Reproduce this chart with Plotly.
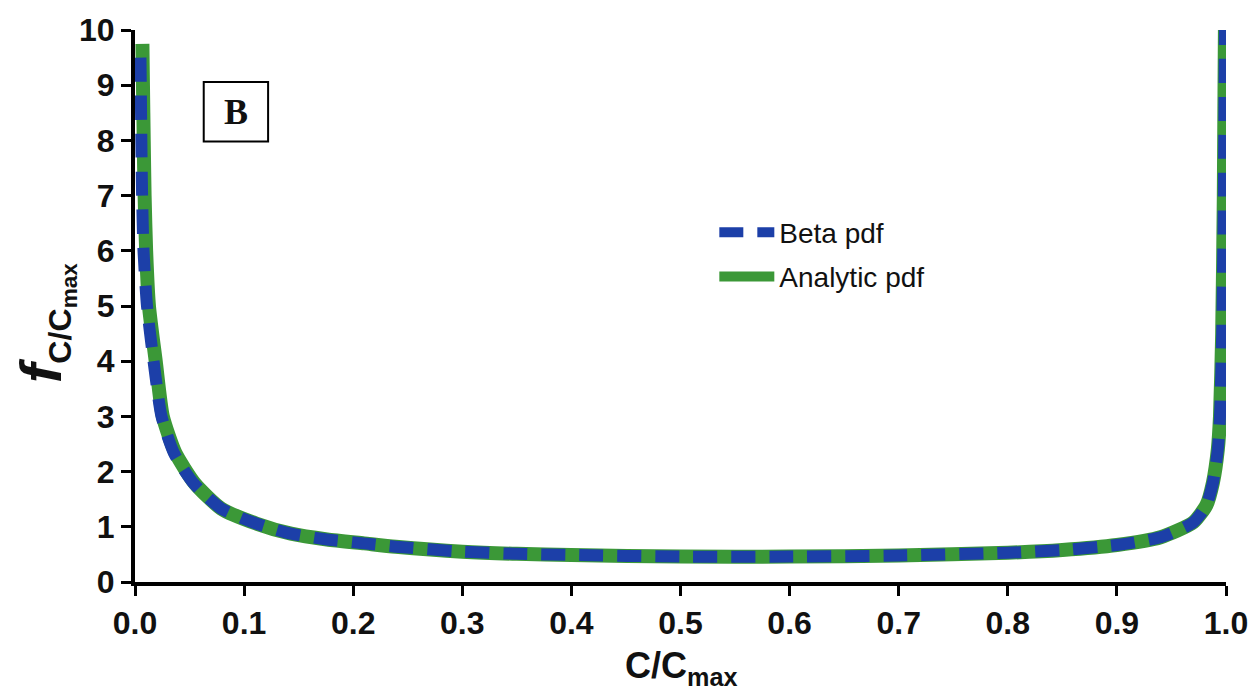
import plotly.graph_objects as go

# Analytic pdf (green solid)
x_analytic = [0.0068, 0.0073, 0.008, 0.0088, 0.0102, 0.0128, 0.019, 0.0255, 0.037, 0.055,
              0.079, 0.111, 0.143, 0.176, 0.21, 0.239, 0.3, 0.35, 0.4, 0.5, 0.6, 0.7,
              0.8, 0.85, 0.9, 0.94, 0.97, 0.982, 0.988, 0.9925, 0.9945, 0.9965, 0.998, 0.999]
y_analytic = [9.75, 9.0, 8.0, 7.0, 6.0, 5.0, 4.0, 3.0, 2.34, 1.78,
              1.33, 1.06, 0.875, 0.77, 0.70, 0.64, 0.55, 0.51, 0.49, 0.46, 0.46, 0.48,
              0.53, 0.58, 0.67, 0.81, 1.08, 1.39, 1.8, 2.4, 3.0, 4.5, 7.0, 10.0]

# Beta pdf (blue dashed)
x_beta = [0.005, 0.0053, 0.0058, 0.0065, 0.0078, 0.011, 0.017, 0.0243, 0.0356, 0.054,
          0.079, 0.111, 0.143, 0.176, 0.21, 0.239, 0.3, 0.35, 0.4, 0.5, 0.6, 0.7,
          0.8, 0.85, 0.9, 0.94, 0.97, 0.982, 0.988, 0.9925, 0.9945, 0.9965, 0.998, 0.999]
y_beta = [9.5, 9.0, 8.0, 7.0, 6.0, 5.0, 4.0, 3.0, 2.34, 1.78,
          1.33, 1.06, 0.875, 0.77, 0.70, 0.64, 0.55, 0.51, 0.49, 0.46, 0.46, 0.48,
          0.53, 0.58, 0.67, 0.81, 1.08, 1.39, 1.8, 2.4, 3.0, 4.5, 7.0, 10.0]

x_ticks = [0.0, 0.1, 0.2, 0.3, 0.4, 0.5, 0.6, 0.7, 0.8, 0.9, 1.0]
x_tick_labels = ["0.0", "0.1", "0.2", "0.3", "0.4", "0.5", "0.6", "0.7", "0.8", "0.9", "1.0"]
y_ticks = [0, 1, 2, 3, 4, 5, 6, 7, 8, 9, 10]
y_tick_labels = [str(v) for v in y_ticks]

GREEN = "#3b9837"
BLUE = "#1c3fa8"
FONT = "Liberation Sans, Arial, sans-serif"

fig = go.Figure()
fig.add_trace(go.Scatter(
    x=x_analytic, y=y_analytic, mode="lines", name="Analytic pdf",
    line=dict(color=GREEN, width=14, shape="spline", smoothing=0.6),
    legend="legend2",
))
fig.add_trace(go.Scatter(
    x=x_beta, y=y_beta, mode="lines", name="Beta pdf",
    line=dict(color=BLUE, width=12, dash="24px,14px", shape="spline", smoothing=0.6),
    legend="legend",
))

axis_common = dict(
    showline=True, linecolor="black", linewidth=4,
    ticks="outside", ticklen=10, tickwidth=3, tickcolor="black",
    showgrid=False, zeroline=False,
    tickfont=dict(family=FONT, size=32, color="#111111", weight="bold"),
)

legend_font = dict(family=FONT, size=28, color="#111111")
fig.update_layout(
    width=1260, height=694,
    margin=dict(l=135, r=27, t=25, b=112),
    plot_bgcolor="white", paper_bgcolor="white",
    xaxis=dict(range=[0, 1], tickvals=x_ticks, ticktext=x_tick_labels, **axis_common),
    yaxis=dict(range=[0, 10], tickvals=y_ticks, ticktext=y_tick_labels, **axis_common),
    legend=dict(x=0.531, y=0.633, xanchor="left", yanchor="middle",
                font=legend_font, itemwidth=55, bgcolor="rgba(0,0,0,0)"),
    legend2=dict(x=0.531, y=0.553, xanchor="left", yanchor="middle",
                 font=legend_font, itemwidth=55, bgcolor="rgba(0,0,0,0)"),
    showlegend=True,
)

# Panel label box "B"
fig.add_shape(type="rect", xref="x", yref="y", x0=0.063, x1=0.122, y0=7.98, y1=9.06,
              line=dict(color="black", width=2), fillcolor="white")
fig.add_annotation(x=0.0925, y=8.52, xref="x", yref="y", text="<b>B</b>", showarrow=False,
                   font=dict(family="Liberation Serif, Times New Roman, serif", size=36, color="#111111"))

# Axis titles
fig.add_annotation(x=0.5, y=-0.155, xref="paper", yref="paper", xanchor="center", yanchor="middle",
                   text="<b>C/C<sub>max</sub></b>", showarrow=False,
                   font=dict(family=FONT, size=36, color="#111111"))
fig.add_annotation(x=-0.083, y=0.47, xref="paper", yref="paper", xanchor="center", yanchor="middle",
                   textangle=-90, showarrow=False,
                   text="<b><i><span style='font-size:58px'>f</span></i><sub>C/C<sub>max</sub></sub></b>",
                   font=dict(family=FONT, size=46, color="#111111"))

fig.write_html("out.html")
